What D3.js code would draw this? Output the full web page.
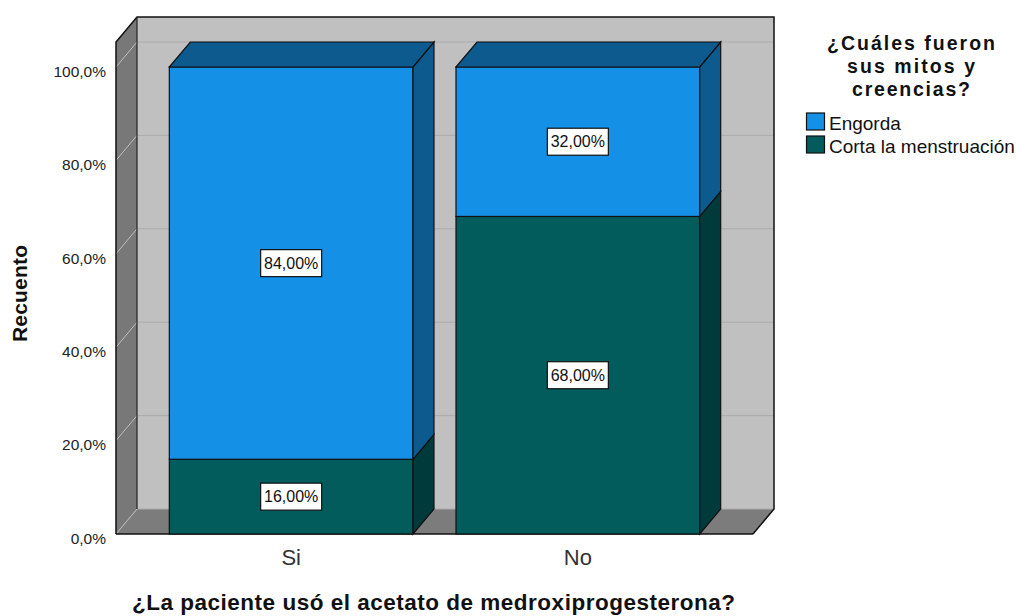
<!DOCTYPE html>
<html>
<head>
<meta charset="utf-8">
<script src="https://cdn.jsdelivr.net/npm/d3@7"></script>
<style>
  html, body { margin: 0; padding: 0; background: #fff; }
  svg { display: block; font-family: "Liberation Sans", Arial, sans-serif; }
</style>
</head>
<body>
<svg id="chart" width="1016" height="616"></svg>
<script>
// Categories and stacked percentages
const categories = ["Si", "No"];
const seriesNames = ["Engorda", "Corta la menstruación"];
const engorda = [84, 32];
const corta = [16, 68];
const yTicks = [0, 20, 40, 60, 80, 100];

const xTitle = "¿La paciente usó el acetato de medroxiprogesterona?";
const yTitle = "Recuento";
const legendTitle = ["¿Cuáles fueron", "sus mitos y", "creencias?"];

const frontColors = { "Engorda": "#1490e6", "Corta la menstruación": "#025c5c" };
const sideColors  = { "Engorda": "#0c5a8e", "Corta la menstruación": "#003a3a" };

const svg = d3.select("#chart");

// Plot frame (front plane) and depth offset of the 3D box
const left = 116, right = 753, bottom = 534, top100 = 67;
const dx = 21, dy = -25;
const wallTopFront = 42;

const x = d3.scaleBand().domain(categories).range([left, right])
  .paddingInner(0.15).paddingOuter(0.186);
const y = d3.scaleLinear().domain([0, 100]).range([bottom, top100]);

const pts = arr => arr.map(p => p.join(",")).join(" ");

// Back wall
svg.append("rect")
  .attr("x", left + dx).attr("y", wallTopFront + dy)
  .attr("width", right - left).attr("height", bottom - wallTopFront)
  .attr("fill", "#c0c0c0");

// Left wall
svg.append("polygon")
  .attr("points", pts([[left, wallTopFront], [left + dx, wallTopFront + dy], [left + dx, bottom + dy], [left, bottom]]))
  .attr("fill", "#787878");

// Floor
svg.append("polygon")
  .attr("points", pts([[left, bottom], [left + dx, bottom + dy], [right + dx, bottom + dy], [right, bottom]]))
  .attr("fill", "#7c7c7c");

// Gridlines on back wall and left wall
const grid = svg.append("g");
yTicks.forEach(t => {
  grid.append("line")
    .attr("x1", left + dx).attr("x2", right + dx)
    .attr("y1", y(t) + dy).attr("y2", y(t) + dy)
    .attr("stroke", "#acacac").attr("stroke-width", 1);
  grid.append("line")
    .attr("x1", left).attr("x2", left + dx)
    .attr("y1", y(t)).attr("y2", y(t) + dy)
    .attr("stroke", "#bdbdbd").attr("stroke-width", 1);
});

// Box outlines
svg.append("polyline")
  .attr("points", pts([[left, bottom], [left, wallTopFront], [left + dx, wallTopFront + dy], [right + dx, wallTopFront + dy], [right + dx, bottom + dy], [right, bottom]]))
  .attr("fill", "none").attr("stroke", "#111").attr("stroke-width", 1.5);
svg.append("line")
  .attr("x1", left + dx).attr("x2", left + dx)
  .attr("y1", wallTopFront + dy).attr("y2", bottom + dy)
  .attr("stroke", "#222").attr("stroke-width", 1.2);
svg.append("line")
  .attr("x1", left).attr("x2", right)
  .attr("y1", bottom).attr("y2", bottom)
  .attr("stroke", "#111").attr("stroke-width", 1.5);

// Stacked data: Corta at the base, Engorda on top
const rows = categories.map((c, i) => ({ cat: c, "Corta la menstruación": corta[i], "Engorda": engorda[i] }));
const stack = d3.stack().keys(["Corta la menstruación", "Engorda"])(rows);

const bars = svg.append("g");
const labels = [];
categories.forEach((c, i) => {
  const x0 = x(c), x1 = x(c) + x.bandwidth();
  stack.forEach(layer => {
    const key = layer.key;
    const [v0, v1] = layer[i];
    const yb = y(v0), yt = y(v1);
    // front face
    bars.append("rect")
      .attr("x", x0).attr("y", yt).attr("width", x1 - x0).attr("height", yb - yt)
      .attr("fill", frontColors[key]).attr("stroke", "#111").attr("stroke-width", 1.2);
    // right side face
    bars.append("polygon")
      .attr("points", pts([[x1, yt], [x1 + dx, yt + dy], [x1 + dx, yb + dy], [x1, yb]]))
      .attr("fill", sideColors[key]).attr("stroke", "#111").attr("stroke-width", 1.2);
    labels.push({ x: (x0 + x1) / 2, y: (yb + yt) / 2, text: d3.format(".2f")(v1 - v0).replace(".", ",") + "%" });
  });
  // top face
  const topKey = stack[stack.length - 1].key;
  const yt = y(stack[stack.length - 1][i][1]);
  bars.append("polygon")
    .attr("points", pts([[x0, yt], [x0 + dx, yt + dy], [x1 + dx, yt + dy], [x1, yt]]))
    .attr("fill", sideColors[topKey]).attr("stroke", "#111").attr("stroke-width", 1.2);
});

// Value labels in boxes
const lab = svg.append("g");
labels.forEach(l => {
  const g = lab.append("g").attr("transform", `translate(${l.x},${l.y})`);
  g.append("rect").attr("x", -30.5).attr("y", -13.5).attr("width", 61).attr("height", 27)
    .attr("fill", "#fff").attr("stroke", "#111").attr("stroke-width", 1.2);
  g.append("text").attr("text-anchor", "middle").attr("dy", "0.36em")
    .attr("font-size", 16).attr("fill", "#111").text(l.text);
});

// Y axis tick labels
const yAxis = d3.axisLeft(y).tickValues(yTicks)
  .tickFormat(d => d3.format(".1f")(d).replace(".", ",") + "%")
  .tickSize(0).tickPadding(10);
const ya = svg.append("g").attr("transform", `translate(${left},0)`).call(yAxis);
ya.select(".domain").remove();
ya.selectAll("text").attr("font-size", 15.5).attr("fill", "#222").attr("dy", "0.6em")
  .attr("font-family", "'Liberation Sans', Arial, sans-serif");

// X axis category labels
const xAxis = d3.axisBottom(x).tickSize(0).tickPadding(15);
const xa = svg.append("g").attr("transform", `translate(0,${bottom})`).call(xAxis);
xa.select(".domain").remove();
xa.selectAll("text").attr("font-size", 22).attr("fill", "#333")
  .attr("font-family", "'Liberation Sans', Arial, sans-serif");

// Axis titles
svg.append("text").attr("x", 433.5).attr("y", 610).attr("text-anchor", "middle")
  .attr("font-size", 22.5).attr("font-weight", "bold").attr("fill", "#111")
  .attr("textLength", 603).attr("lengthAdjust", "spacing").text(xTitle);
svg.append("text").attr("transform", "translate(27,293.5) rotate(-90)").attr("text-anchor", "middle")
  .attr("font-size", 21).attr("font-weight", "bold").attr("fill", "#111")
  .attr("textLength", 97).attr("lengthAdjust", "spacing").text(yTitle);

// Legend
const leg = svg.append("g");
const titleWidths = [168, 128, 118];
const titleBase = [49.5, 72.5, 95.5];
legendTitle.forEach((t, i) => {
  leg.append("text").attr("x", 911).attr("y", titleBase[i]).attr("text-anchor", "middle")
    .attr("font-size", 19.5).attr("font-weight", "bold").attr("fill", "#111")
    .attr("textLength", titleWidths[i]).attr("lengthAdjust", "spacing").text(t);
});
seriesNames.forEach((s, i) => {
  const yy = 113 + i * 23;
  leg.append("rect").attr("x", 806.5).attr("y", yy).attr("width", 18).attr("height", 17)
    .attr("fill", frontColors[s]).attr("stroke", "#111").attr("stroke-width", 1.2);
  leg.append("text").attr("x", 829).attr("y", yy + 16.5)
    .attr("font-size", 19).attr("fill", "#111").text(s);
});
</script>
</body>
</html>
